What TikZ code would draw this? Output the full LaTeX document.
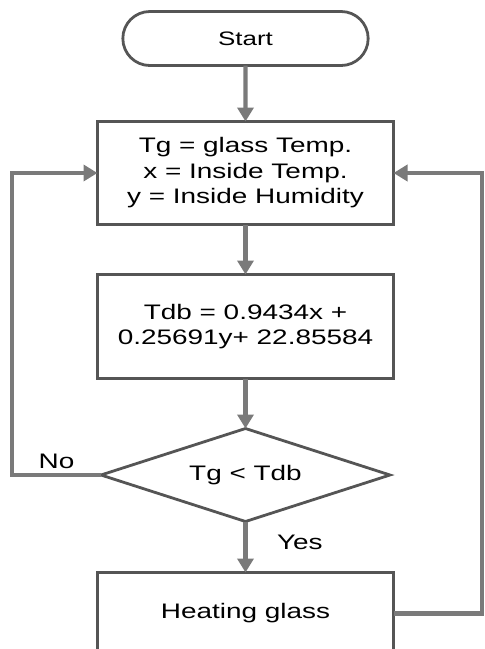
\documentclass[tikz,border=0pt]{standalone}
\usepackage{fontspec}
\setmainfont{Liberation Sans}[FakeStretch=1.33]
\usetikzlibrary{shapes.geometric,shapes.misc,arrows.meta,positioning}
\definecolor{boxline}{RGB}{85,85,85}
\definecolor{flowline}{RGB}{122,122,122}

\begin{document}
\begin{tikzpicture}[
  node distance=50pt,
  term/.style={rounded rectangle, draw=boxline, line width=2.8pt, outer sep=0pt, minimum width=252pt, minimum height=54pt, font=\fontsize{19.5}{23}\selectfont},
  proc/.style={rectangle, draw=boxline, line width=2.8pt, outer sep=0pt, minimum width=296pt, align=center, font=\fontsize{21}{25.5}\selectfont},
  decide/.style={diamond, aspect=3.1, draw=boxline, line width=2.8pt, outer sep=0pt, inner sep=0pt, minimum width=289pt, minimum height=93pt, font=\fontsize{21}{25}\selectfont},
  arrow/.style={-{Triangle[length=14pt,width=16pt]}, line width=4.4pt, draw=flowline},
  lbl/.style={font=\fontsize{21}{25}\selectfont},
]
  \useasboundingbox (0,0) rectangle (485pt,-649pt);
  \node[term] (start) at (245.5pt,-38.5pt) {Start};
  \node[proc, minimum height=103pt, below=56pt of start.south, anchor=north] (vars) {Tg = glass Temp.\\x = Inside Temp.\\y = Inside Humidity};
  \node[proc, minimum height=104pt, below=of vars] (tdb) {Tdb = 0.9434x +\\0.25691y+ 22.85584};
  \node[decide, below=of tdb] (check) {Tg < Tdb};
  \node[proc, minimum height=82pt, below=51pt of check] (heat) {Heating glass};

  \draw[arrow] (start) -- (vars);
  \draw[arrow] (vars) -- (tdb);
  \draw[arrow] (tdb) -- (check);
  \draw[arrow] (check) -- node[lbl, right=26pt, pos=0.4] {Yes} (heat);
  \draw[arrow] (check.west) -- node[lbl, above=1pt] {No} ++(-89pt,0) |- (vars.west);
  \draw[arrow] (heat.east) -- ++(88.5pt,0) |- (vars.east);
\end{tikzpicture}
\end{document}
